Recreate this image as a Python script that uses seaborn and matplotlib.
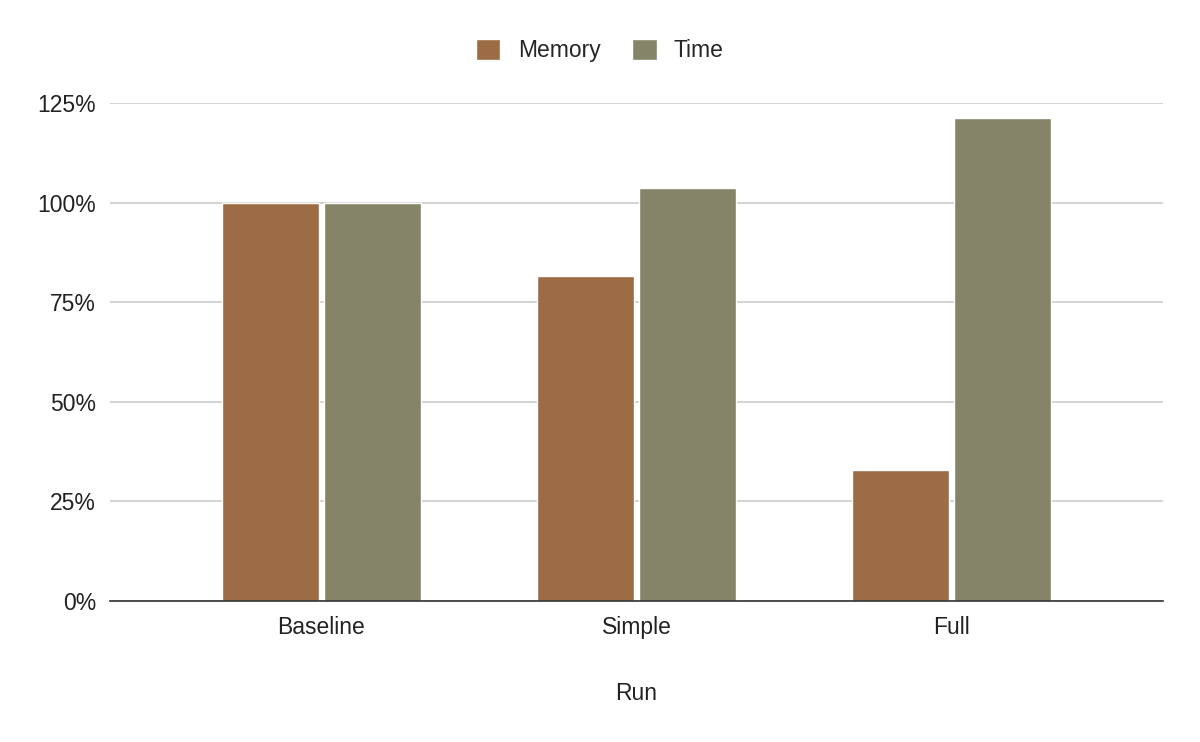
import pandas as pd
import matplotlib.pyplot as plt
import seaborn as sns
from matplotlib.ticker import FuncFormatter

# data
runs = ['Baseline', 'Simple', 'Full']
memory = [100.0, 81.6, 32.9]
time = [100.0, 103.7, 121.2]

df = pd.DataFrame({
    'Run': runs * 2,
    'value': memory + time,
    'metric': ['Memory'] * 3 + ['Time'] * 3,
})

sns.set_theme(style='white')
plt.rcParams['font.family'] = ['Liberation Sans', 'DejaVu Sans']

fig = plt.figure(figsize=(12, 7.42), dpi=100)
ax = fig.add_axes([0.0917, 0.19, 0.8775, 0.6712])

colors = {'Memory': '#9c6c44', 'Time': '#858368'}
sns.barplot(data=df, x='Run', y='value', hue='metric', palette=colors,
            width=0.648, gap=0.05, ax=ax, saturation=1, legend=True)

ax.set_xlim(-0.67, 2.67)
ax.set_ylim(0, 125)
ax.set_yticks([0, 25, 50, 75, 100, 125])
ax.yaxis.set_major_formatter(FuncFormatter(lambda v, p: f'{int(v)}%'))
ax.grid(axis='y', color='#cccccc', linewidth=1.2)
ax.set_axisbelow(True)
for s in ['top', 'right', 'left']:
    ax.spines[s].set_visible(False)
ax.spines['bottom'].set_color('#333333')
ax.spines['bottom'].set_linewidth(1.2)
ax.tick_params(axis='both', length=0, labelsize=16.5, colors='#222222')
ax.tick_params(axis='y', pad=10)
ax.tick_params(axis='x', pad=11)
ax.set_xlabel('Run', fontsize=16.5, color='#222222', labelpad=31)
ax.set_ylabel('')

# legend centred on the figure, not the axes
handles, labels = ax.get_legend_handles_labels()
ax.get_legend().remove()
fig.legend(handles, labels, loc='center', bbox_to_anchor=(0.5, 0.932), ncol=2,
           frameon=False, fontsize=16.5, handlelength=1.05, handleheight=1.05,
           columnspacing=1.4, handletextpad=0.75)

fig.savefig('out.png', dpi=100)
